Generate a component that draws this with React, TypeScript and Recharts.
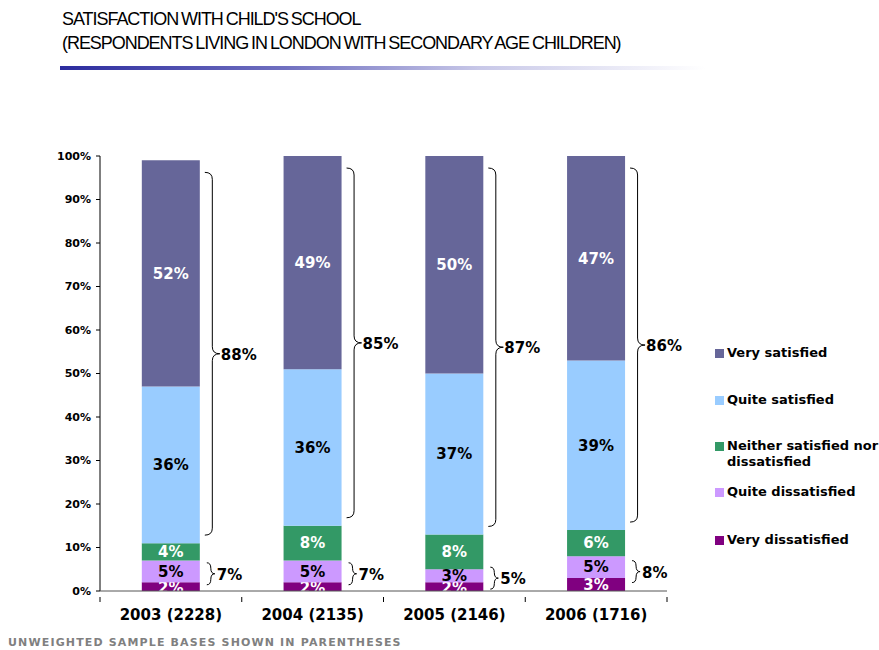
import React from "react";
import { BarChart, Bar, XAxis, YAxis, LabelList, Legend, Rectangle } from "recharts";

const years = ["2003 (2228)", "2004 (2135)", "2005 (2146)", "2006 (1716)"];
const veryDissatisfied = [2, 2, 2, 3];
const quiteDissatisfied = [5, 5, 3, 5];
const neither = [4, 8, 8, 6];
const quiteSatisfied = [36, 36, 37, 39];
const verySatisfied = [52, 49, 50, 47];
const satisfiedTotals = [88, 85, 87, 86];
const dissatisfiedTotals = [7, 7, 5, 8];

const yTicks = [0, 10, 20, 30, 40, 50, 60, 70, 80, 90, 100];

const SERIES = [
  { key: "veryDis", name: "Very dissatisfied", color: "#800080", text: "#ffffff" },
  { key: "quiteDis", name: "Quite dissatisfied", color: "#cc99ff", text: "#000000" },
  { key: "neither", name: "Neither satisfied nor dissatisfied", color: "#339966", text: "#ffffff" },
  { key: "quiteSat", name: "Quite satisfied", color: "#99ccff", text: "#000000" },
  { key: "verySat", name: "Very satisfied", color: "#666699", text: "#ffffff" },
];

const data = years.map((year, i) => ({
  year,
  veryDis: veryDissatisfied[i],
  quiteDis: quiteDissatisfied[i],
  neither: neither[i],
  quiteSat: quiteSatisfied[i],
  verySat: verySatisfied[i],
  satTotal: satisfiedTotals[i],
  disTotal: dissatisfiedTotals[i],
}));

const FONT = "'DejaVu Sans', Verdana, sans-serif";

function bracePath(x: number, y1: number, y2: number, w: number) {
  const ym = (y1 + y2) / 2;
  const h = w / 2;
  const r = Math.min(7, (y2 - y1) / 4);
  return `M${x},${y1} Q${x + h},${y1} ${x + h},${y1 + r} L${x + h},${ym - r} Q${x + h},${ym} ${x + w},${ym} Q${x + h},${ym} ${x + h},${ym + r} L${x + h},${y2 - r} Q${x + h},${y2} ${x},${y2}`;
}

// bottom segment: label drawn with the bar so the next segment covers its overflow
function VeryDisShape(props: any) {
  const { x, y, width, height, payload, fill } = props;
  const top = Math.min(y, y + height);
  const h = Math.abs(height);
  return (
    <g>
      <Rectangle x={x} y={y} width={width} height={height} fill={fill} />
      <text x={x + width / 2} y={top + h / 2 + 6} textAnchor="middle" fontFamily={FONT} fontWeight="bold" fontSize={15} fill="#fff">
        {payload.veryDis}%
      </text>
    </g>
  );
}

// quite satisfied segment + brace spanning both "satisfied" segments
function SatisfiedShape(props: any) {
  const { x, y, width, height, payload, fill } = props;
  const top = Math.min(y, y + height);
  const h = Math.abs(height);
  const px = h / payload.quiteSat;
  const upper = top - payload.verySat * px;
  const bx = x + width + 5;
  const y1 = upper + 12;
  const y2 = top + h - 8;
  const ym = (y1 + y2) / 2;
  return (
    <g>
      <Rectangle x={x} y={y} width={width} height={height} fill={fill} />
      <path d={bracePath(bx, y1, y2, 15)} fill="none" stroke="#000" strokeWidth={1} />
      <text x={bx + 16} y={ym + 6} fontFamily={FONT} fontWeight="bold" fontSize={15} fill="#000">
        {payload.satTotal}%
      </text>
    </g>
  );
}

// quite dissatisfied segment + brace spanning both "dissatisfied" segments
function DissatisfiedShape(props: any) {
  const { x, y, width, height, payload, fill } = props;
  const top = Math.min(y, y + height);
  const h = Math.abs(height);
  const px = h / payload.quiteDis;
  const bottom = top + h + payload.veryDis * px;
  const mid = (top + bottom) / 2 - 2;
  const bx = x + width + 7;
  return (
    <g>
      <Rectangle x={x} y={y} width={width} height={height} fill={fill} />
      <path d={bracePath(bx, mid - 11, mid + 11, 8)} fill="none" stroke="#000" strokeWidth={1} />
      <text x={bx + 10} y={mid + 6} fontFamily={FONT} fontWeight="bold" fontSize={15} fill="#000">
        {payload.disTotal}%
      </text>
    </g>
  );
}

const shapes: Record<string, any> = {
  veryDis: VeryDisShape,
  quiteDis: DissatisfiedShape,
  quiteSat: SatisfiedShape,
};

const BAND = 567 / years.length;

function XTick(props: any) {
  const { x, y, payload } = props;
  return (
    <g>
      <line x1={x + BAND / 2} y1={y - 2} x2={x + BAND / 2} y2={y + 3} stroke="#000" />
      {payload.index === 0 && <line x1={x - BAND / 2} y1={y - 2} x2={x - BAND / 2} y2={y + 3} stroke="#000" />}
      <text x={x} y={y + 21} textAnchor="middle" fontFamily={FONT} fontWeight="bold" fontSize={15} fill="#000">
        {payload.value}
      </text>
    </g>
  );
}

const legendOrder = [...SERIES].reverse();
const legendTops = [0, 47, 93, 139, 187];

function LegendContent() {
  return (
    <div style={{ position: "relative", width: 164, height: 210, fontFamily: FONT, fontWeight: "bold", fontSize: 13 }}>
      {legendOrder.map((s, i) => (
        <div key={s.key} style={{ position: "absolute", left: 0, top: legendTops[i], display: "flex", alignItems: "flex-start" }}>
          <span style={{ width: 9, height: 9, background: s.color, marginTop: 4, marginRight: 3, flexShrink: 0 }} />
          <span style={{ lineHeight: "16px", width: 158 }}>{s.name}</span>
        </div>
      ))}
    </div>
  );
}

export default function App() {
  return (
    <div style={{ position: "absolute", left: 0, top: 0, width: 879, height: 650, background: "#fff", fontFamily: FONT, overflow: "hidden" }}>
      <div
        style={{
          position: "absolute",
          left: 62,
          top: 7,
          fontFamily: "'Liberation Sans Narrow', 'Liberation Sans', Arial, sans-serif",
          fontSize: 18,
          lineHeight: "24px",
          letterSpacing: -1.05,
          wordSpacing: -1,
          color: "#000",
          whiteSpace: "nowrap",
        }}
      >
        <div>SATISFACTION WITH CHILD'S SCHOOL</div>
        <div>(RESPONDENTS LIVING IN LONDON WITH SECONDARY AGE CHILDREN)</div>
      </div>
      <div
        style={{
          position: "absolute",
          left: 60,
          top: 66,
          width: 645,
          height: 4,
          background: "linear-gradient(to right, #2b2b9e 0%, #7070c0 35%, #c8c8e8 65%, #ffffff 100%)",
        }}
      />
      <div style={{ position: "absolute", left: 0, top: 0 }}>
        <BarChart
          width={879}
          height={650}
          data={data}
          margin={{ top: 156, right: 212, bottom: 29, left: 40 }}
          barCategoryGap="29.5%"
        >
          <YAxis
            domain={[0, 100]}
            ticks={yTicks}
            width={60}
            tickSize={4}
            tickMargin={5}
            tickFormatter={(v: number) => `${v}%`}
            axisLine={{ stroke: "#000" }}
            tickLine={{ stroke: "#000" }}
            tick={{ fontFamily: FONT, fontWeight: "bold", fontSize: 11, fill: "#000" }}
          />
          <XAxis
            dataKey="year"
            height={30}
            axisLine={{ stroke: "#555" }}
            tickLine={false}
            interval={0}
            tick={<XTick />}
          />
          {SERIES.map((s) => (
            <Bar
              key={s.key}
              dataKey={s.key}
              name={s.name}
              stackId="a"
              fill={s.color}
              isAnimationActive={false}
              shape={shapes[s.key]}
            >
              {s.key !== "veryDis" && (
                <LabelList
                  dataKey={s.key}
                  position="center"
                  formatter={(v: any) => `${v}%`}
                  fill={s.text}
                  style={{ fontFamily: FONT, fontWeight: "bold", fontSize: 15, fill: s.text }}
                />
              )}
            </Bar>
          ))}
          <Legend
            layout="horizontal"
            align="center"
            verticalAlign="middle"
            content={<LegendContent />}
            wrapperStyle={{ position: "absolute", left: 715, top: 345, width: 164 }}
          />
        </BarChart>
      </div>
      <div
        style={{
          position: "absolute",
          left: 8,
          top: 636,
          fontFamily: FONT,
          fontWeight: "bold",
          fontSize: 11,
          color: "#808080",
          letterSpacing: 1.15,
          whiteSpace: "nowrap",
        }}
      >
        UNWEIGHTED SAMPLE BASES SHOWN IN PARENTHESES
      </div>
    </div>
  );
}
